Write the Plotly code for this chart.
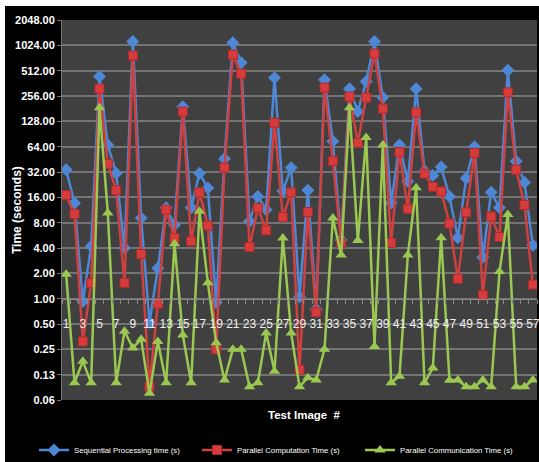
import math
import plotly.graph_objects as go

images = list(range(1, 58))

sequential = [34, 13.7, 0.93, 4.2, 435, 67, 31, 4.0, 1135, 9.1,
              0.52, 2.3, 12, 7.5, 191, 12, 31, 20.6, 0.9, 46,
              1100, 638, 8.3, 16.4, 11.4, 423, 19, 36, 1.05, 19.4,
              0.75, 400, 74, 5, 313, 168, 380, 1135, 245, 13.7,
              67, 24.6, 313, 33, 29, 36.6, 16.4, 5.3, 27, 64,
              3.1, 18.4, 12, 517, 43, 24, 4.3]

computation = [17, 10.2, 0.31, 1.54, 313, 40, 19.4, 1.54, 774, 3.4,
               0.09, 0.87, 11.4, 5.25, 167, 4.8, 18.3, 7.4, 0.25, 36,
               793, 472, 4.1, 11.9, 6.5, 123, 9.3, 18.3, 0.143, 10.7,
               0.69, 322, 43, 4.6, 252, 71, 245, 816, 181, 4.6,
               55, 11.7, 163, 30.6, 21.4, 18.8, 7.8, 1.72, 10.6, 54,
               1.1, 9.5, 5.4, 283, 34, 13, 1.47]

communication = [1.95, 0.10, 0.18, 0.10, 186, 10.4, 0.10, 0.41, 0.26, 0.33,
                 0.075, 0.31, 0.10, 4.5, 0.37, 0.10, 10.9, 1.55, 0.3, 0.108,
                 0.25, 0.25, 0.09, 0.10, 0.39, 0.137, 5.25, 0.39, 0.09, 0.115,
                 0.108, 0.25, 9.1, 3.3, 186, 4.9, 82, 0.27, 67, 0.10,
                 0.12, 3.3, 20.8, 0.10, 0.15, 5.3, 0.107, 0.108, 0.09, 0.09,
                 0.108, 0.09, 2.1, 10, 0.09, 0.09, 0.108]

y_tick_vals = [2 ** k for k in range(-4, 12)]
y_tick_text = ["0.06", "0.13", "0.25", "0.50", "1.00", "2.00", "4.00", "8.00",
               "16.00", "32.00", "64.00", "128.00", "256.00", "512.00",
               "1024.00", "2048.00"]
x_tick_vals = list(range(1, 58, 2))
x_tick_text = [str(v) for v in x_tick_vals]

series_names = ["Sequential Processing time (s)",
                "Parallel Computation Time (s)",
                "Parallel Communication Time (s)"]

W, H = 539, 462
L, R, T, B = 62, 2, 20, 62
PW, PH = W - L - R, H - T - B

def px_x(px):
    return (px - L) / PW

def px_y(py):
    return (H - B - py) / PH

fig = go.Figure()

fig.add_trace(go.Scatter(
    x=images, y=sequential, name=series_names[0], mode="lines+markers",
    line=dict(color="#4d87d6", width=2.5),
    marker=dict(symbol="diamond", size=10, color="#4d87d6"),
))
fig.add_trace(go.Scatter(
    x=images, y=computation, name=series_names[1], mode="lines+markers",
    line=dict(color="#cf4040", width=2.5),
    marker=dict(symbol="square", size=9, color="#d63c3c",
                line=dict(color="#b02a2a", width=1)),
))
fig.add_trace(go.Scatter(
    x=images, y=communication, name=series_names[2], mode="lines+markers",
    line=dict(color="#9bc850", width=2.5),
    marker=dict(symbol="triangle-up", size=10, color="#9bc850"),
))

ymin, ymax = math.log10(0.0625), math.log10(2048)
axis_pos = (math.log10(1) - ymin) / (ymax - ymin)

fig.update_layout(
    width=W, height=H,
    margin=dict(l=L, r=R, t=T, b=B, autoexpand=False),
    paper_bgcolor="#000000",
    plot_bgcolor="#404040",
    showlegend=True,
    hovermode=False,
    legend=dict(
        orientation="h", x=px_x(34), y=px_y(450), xanchor="left", yanchor="middle",
        font=dict(family="Liberation Sans, Arial", size=7.8, color="#ffffff"),
        bgcolor="rgba(0,0,0,0)", itemwidth=30,
        entrywidth=118, entrywidthmode="pixels",
    ),
    xaxis=dict(
        range=[0.5, 57.5], anchor="free", position=axis_pos,
        tickmode="array", tickvals=x_tick_vals, ticktext=x_tick_text,
        ticks="", showgrid=False, zeroline=False, automargin=False,
        showline=True, linecolor="#8a8a8a", linewidth=1,
        ticklabelstandoff=14, ticklabeloverflow="allow",
        tickfont=dict(family="Liberation Sans, Arial", size=12, color="#f0f0f0"),
        minor=dict(tickmode="linear", tick0=0.5, dtick=1, ticks="outside",
                   ticklen=4, tickcolor="#8a8a8a", showgrid=False),
    ),
    yaxis=dict(
        type="log", range=[ymin, ymax], automargin=False,
        tickmode="array", tickvals=y_tick_vals, ticktext=y_tick_text,
        showgrid=True, gridcolor="#747474", gridwidth=1.5,
        zeroline=False, showline=True, linecolor="#747474",
        ticks="outside", ticklen=4, tickcolor="#747474",
        tickfont=dict(family="Liberation Sans, Arial", size=11, color="#ffffff",
                      weight="bold"),
    ),
    annotations=[
        dict(text="<b>Time (seconds)</b>", textangle=-90, xref="paper", yref="paper",
             x=px_x(17), y=0.5, xanchor="center", yanchor="middle", showarrow=False,
             font=dict(family="Liberation Sans, Arial", size=12, color="#ffffff")),
        dict(text="<b>Test Image  #</b>", xref="paper", yref="paper",
             x=px_x(304), y=px_y(415), xanchor="center", yanchor="middle",
             showarrow=False,
             font=dict(family="Liberation Sans, Arial", size=11.5, color="#ffffff")),
    ],
    shapes=[
        dict(type="rect", xref="paper", yref="paper", x0=px_x(0), x1=px_x(W),
             y0=px_y(6), y1=px_y(0), fillcolor="#ffffff", line=dict(width=0)),
        dict(type="rect", xref="paper", yref="paper", x0=px_x(0), x1=px_x(5),
             y0=px_y(H), y1=px_y(0), fillcolor="#ffffff", line=dict(width=0)),
    ],
)

fig.write_html("out.html", config={"displayModeBar": False},
               post_script="document.body.style.margin='0px';")
